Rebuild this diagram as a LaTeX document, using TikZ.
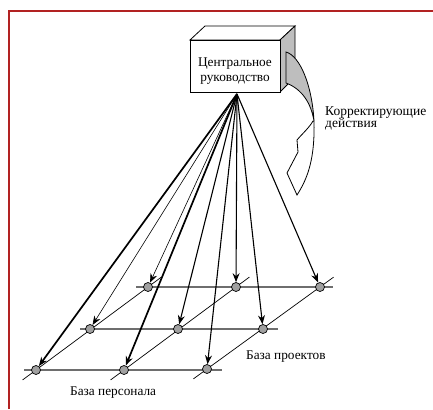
\documentclass[tikz,border=0pt]{standalone}
\usepackage{fontspec}
\setmainfont{Liberation Serif}
\usetikzlibrary{arrows.meta,calc}
\definecolor{framered}{RGB}{178,34,34}
\definecolor{sidegray}{RGB}{190,190,190}
\definecolor{dotgray}{RGB}{160,160,160}
\definecolor{rowgray}{RGB}{110,110,110}
\tikzset{
  dot/.style={circle,draw=black,fill=dotgray,line width=0.7pt,minimum size=9pt,inner sep=0pt},
  rowline/.style={draw=rowgray,line width=1.3pt},
  diagline/.style={draw=black,line width=0.7pt},
  arr/.style={-{Stealth[length=9pt,width=7pt,inset=3pt]}},
  thickarr/.style={arr,line width=1.7pt},
  midarr/.style={arr,line width=1.1pt},
  thinarr/.style={arr,line width=0.6pt},
  lbl/.style={font=\fontsize{13.3}{14}\selectfont,inner sep=0pt},
  widelbl/.style={font=\fontsize{13.5}{14}\selectfont,inner sep=0pt},
}
\begin{document}
\begin{tikzpicture}[x=1pt,y=-1pt]
\useasboundingbox (0,0) rectangle (433,409);
% frame
\draw[framered,line width=2pt] (9,409) -- (9,11) -- (433,11);
% grid coordinates
\coordinate (pa1) at (148,287); \coordinate (pa2) at (236,287); \coordinate (pa3) at (320,287);
\coordinate (pb1) at (90,329);  \coordinate (pb2) at (178,329); \coordinate (pb3) at (263,329);
\coordinate (pc1) at (36,370);  \coordinate (pc2) at (124,370); \coordinate (pc3) at (207,369);
% rows
\draw[rowline] (136,287) coordinate (r1s) -- (333,287) coordinate (r1e);
\draw[rowline] (80,329) coordinate (r2s) -- (278,329) coordinate (r2e);
\draw[rowline] (24,370) coordinate (r3s) -- (222,370) coordinate (r3e);
% diagonals
\draw[diagline] ($(pc1)!-0.12!(pa1)$) -- ($(pa1)!-0.12!(pc1)$);
\draw[diagline] ($(pc2)!-0.12!(pa2)$) -- ($(pa2)!-0.12!(pc2)$);
\draw[diagline] ($(pc3)!-0.12!(pa3)$) -- ($(pa3)!-0.12!(pc3)$);
% dots
\foreach \n in {a1,a2,a3,b1,b2,b3,c1,c2,c3} \node[dot] (\n) at (p\n) {};
% box
\draw[line width=0.8pt,fill=white] (190,40) -- (205,26) -- (295,26) -- (280,40) -- cycle;
\draw[line width=0.8pt,fill=sidegray] (280,40) -- (295,26) -- (295,77) -- (280,92) -- cycle;
\node[draw,line width=0.8pt,fill=white,minimum width=90pt,minimum height=52pt,inner sep=0pt,anchor=north west] (box) at (190,40) {};
\node[lbl,anchor=base] (boxtext1) at (235,67) {Центральное};
\node[lbl,anchor=base] (boxtext2) at (235,82) {руководство};
% ribbon arrow
\draw[line width=0.8pt,fill=sidegray] (286,52) .. controls (300,56) and (312,85) .. (314,121)
   .. controls (311,103) and (302,89) .. (286,83) -- cycle;
\draw[line width=0.8pt,fill=white,line join=miter] (313,121) .. controls (309,128) and (302,134) .. (297,140)
   -- (298,152) -- (287,173) -- (297,195)
   .. controls (308,178) and (315,158) .. (314,121) -- cycle;
\node[widelbl,anchor=base west] (corr1) at (325,115) {Корректирующие};
\node[widelbl,anchor=base west] (corr2) at (325,128) {действия};
% fan arrows
\coordinate (o) at (237,94);
\draw[thickarr] (o) -- (c1);
\draw[thickarr] (o) -- (c2);
\draw[thinarr] (o) -- (b1);
\draw[thinarr] (o) -- (a1);
\draw[midarr] (o) -- (b2);
\draw[midarr] (o) -- (c3);
\draw[midarr] (o) -- (a2);
\draw[midarr] (o) -- (b3);
\draw[midarr] (o) -- (a3);
% labels
\node[lbl,anchor=base west] (pers) at (70,395) {База персонала};
\node[lbl,anchor=base west] (proj) at (246,359) {База проектов};
\end{tikzpicture}
\end{document}
